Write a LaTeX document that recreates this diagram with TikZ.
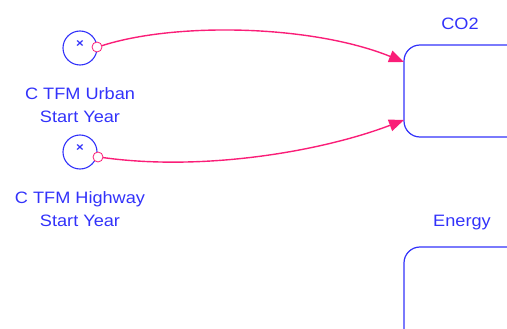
\documentclass[tikz,border=0pt]{standalone}
\usepackage{fontspec}
\setmainfont{Liberation Sans}[FakeStretch=1.1]
\usetikzlibrary{arrows.meta}
\definecolor{vblue}{RGB}{50,50,250}
\definecolor{vpink}{RGB}{250,30,120}
\begin{document}
\begin{tikzpicture}[x=1pt,y=-1pt,
  lbl/.style={text=vblue,font=\fontsize{16.5}{23}\selectfont,align=center,inner sep=0pt},
  cross/.style={text=vblue,font=\fontsize{12}{12}\selectfont\bfseries,inner sep=0pt},
  aux/.style={draw=vblue,circle,minimum size=34pt,inner sep=0pt,line width=1.1pt},
  pin/.style={draw=vpink,fill=white,circle,minimum size=10pt,inner sep=0pt,line width=0.8pt},
  lvl/.style={draw=vblue,rounded corners=16pt,line width=1.2pt},
  link/.style={draw=vpink,line width=1.4pt,-{Triangle[length=15pt,width=12pt]}}]
\useasboundingbox (0,0) rectangle (507,329);
\node[aux] (u) at (80,48) {};
\node[cross] (ux) at (80,44) {×};
\node[aux] (h) at (80,152) {};
\node[cross] (hx) at (80,148) {×};
\node[lbl] (ul) at (80,105) {C TFM Urban\\Start Year};
\node[lbl] (hl) at (80,209) {C TFM Highway\\Start Year};
\draw[lvl] (404,45) rectangle (530,137);
\coordinate (co2w1) at (404,62);
\coordinate (co2w2) at (404,120);
\node[lbl] (co2) at (460,24) {CO2};
\draw[lvl] (404,247) rectangle (530,360);
\node[lbl] (en) at (462,223) {Energy};
\draw[link] (98,47) .. controls (170,22) and (310,24) .. (co2w1);
\draw[link] (99,157) .. controls (200,172) and (320,152) .. (co2w2);
\node[pin] (up) at (97,47) {};
\node[pin] (hp) at (98,157) {};
\end{tikzpicture}
\end{document}
